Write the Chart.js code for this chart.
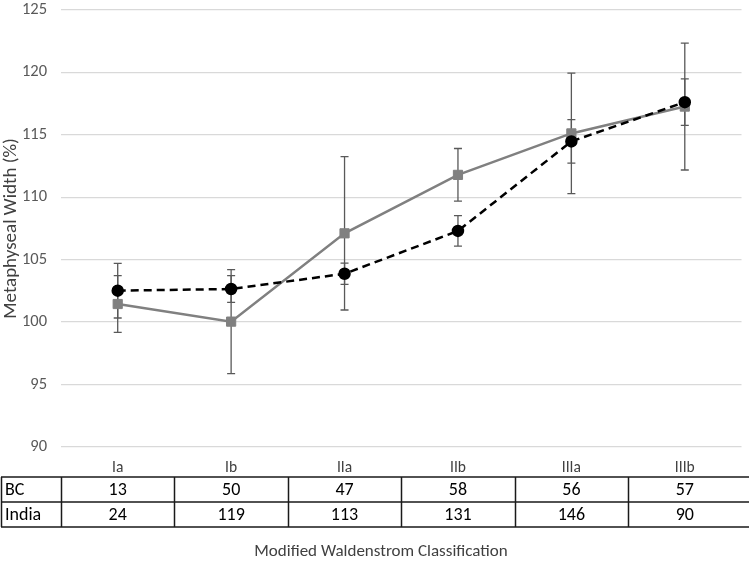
<!DOCTYPE html>
<html>
<head>
<meta charset="utf-8">
<script src="https://cdn.jsdelivr.net/npm/chart.js@4/dist/chart.umd.min.js"></script>
<style>
  html, body { margin: 0; padding: 0; background: #fff; }
  #wrap { width: 749px; height: 562px; }
</style>
</head>
<body>
<div id="wrap"><canvas id="c" width="749" height="562"></canvas></div>
<script>
const categories = ['Ia', 'Ib', 'IIa', 'IIb', 'IIIa', 'IIIb'];
const bcMean = [101.45, 100.04, 107.11, 111.79, 115.11, 117.26];
const bcErr = [2.27, 4.17, 6.14, 2.11, 4.82, 5.08];
const indiaMean = [102.52, 102.65, 103.87, 107.30, 114.47, 117.61];
const indiaErr = [2.19, 1.07, 0.85, 1.22, 1.74, 1.86];
const bcCount = [13, 50, 47, 58, 56, 57];
const indiaCount = [24, 119, 113, 131, 146, 90];
const rowLabels = ['BC', 'India'];
const yTitle = 'Metaphyseal Width (%)';
const xTitle = 'Modified Waldenstrom Classification';

const FONT = "Carlito, 'Liberation Sans', sans-serif";

const errorBars = {
  id: 'errorBars',
  beforeDatasetsDraw(chart) {
    const ctx = chart.ctx;
    const x = chart.scales.x, y = chart.scales.y;
    ctx.save();
    ctx.strokeStyle = '#595959';
    ctx.lineWidth = 1.3;
    const draw = (means, errs) => {
      means.forEach((m, i) => {
        const px = x.getPixelForValue(i);
        const top = y.getPixelForValue(m + errs[i]);
        const bot = y.getPixelForValue(m - errs[i]);
        ctx.beginPath();
        ctx.moveTo(px, top); ctx.lineTo(px, bot);
        ctx.moveTo(px - 4, top); ctx.lineTo(px + 4, top);
        ctx.moveTo(px - 4, bot); ctx.lineTo(px + 4, bot);
        ctx.stroke();
      });
    };
    draw(bcMean, bcErr);
    draw(indiaMean, indiaErr);
    ctx.restore();
  }
};

const dataTable = {
  id: 'dataTable',
  afterDraw(chart) {
    const ctx = chart.ctx;
    const x = chart.scales.x;
    const area = chart.chartArea;
    const step = x.getPixelForValue(1) - x.getPixelForValue(0);
    const b = area.bottom;
    const labelY = b + 21;
    const tTop = b + 30, tMid = b + 55, tBot = b + 80;
    ctx.save();
    // category labels
    ctx.fillStyle = '#404040';
    ctx.font = '15.5px ' + FONT;
    ctx.textAlign = 'center';
    ctx.textBaseline = 'middle';
    categories.forEach((c, i) => ctx.fillText(c, x.getPixelForValue(i), labelY));
    // table lines
    ctx.strokeStyle = '#1a1a1a';
    ctx.lineWidth = 1.5;
    ctx.beginPath();
    [tTop, tMid, tBot].forEach(yy => { ctx.moveTo(1, yy); ctx.lineTo(749, yy); });
    ctx.moveTo(1.5, tTop); ctx.lineTo(1.5, tBot);
    for (let i = 0; i < categories.length; i++) {
      const lx = Math.round(x.getPixelForValue(i) - step / 2) + 0.5;
      ctx.moveTo(lx, tTop); ctx.lineTo(lx, tBot);
    }
    ctx.stroke();
    // values
    ctx.fillStyle = '#000';
    ctx.font = '18px ' + FONT;
    const rows = [bcCount, indiaCount];
    rows.forEach((vals, r) => {
      const cy = tTop + 13 + r * 25;
      ctx.textAlign = 'left';
      ctx.fillText(rowLabels[r], 5, cy);
      ctx.textAlign = 'center';
      vals.forEach((v, i) => ctx.fillText(String(v), x.getPixelForValue(i), cy));
    });
    // x title
    ctx.fillStyle = '#404040';
    ctx.font = '17px ' + FONT;
    ctx.textAlign = 'center';
    ctx.fillText(xTitle, 381, b + 104.5);
    ctx.restore();
  }
};

new Chart(document.getElementById('c'), {
  type: 'line',
  data: {
    labels: categories,
    datasets: [
      {
        label: 'India',
        data: indiaMean,
        borderColor: '#000',
        backgroundColor: '#000',
        borderWidth: 2.5,
        borderDash: [8, 5],
        pointStyle: 'circle',
        pointRadius: 5,
        pointBackgroundColor: '#000',
        pointBorderColor: '#000',
        tension: 0
      },
      {
        label: 'BC',
        data: bcMean,
        borderColor: '#808080',
        backgroundColor: '#808080',
        borderWidth: 2.5,
        pointStyle: 'rect',
        pointRadius: 6.5,
        pointBackgroundColor: '#808080',
        pointBorderColor: '#808080',
        pointBorderWidth: 1,
        tension: 0
      }
    ]
  },
  options: {
    responsive: false,
    animation: false,
    layout: { padding: { top: 8, right: 4, bottom: 115, left: 0 } },
    plugins: { legend: { display: false }, tooltip: { enabled: false } },
    scales: {
      x: { type: 'category', offset: true, display: false },
      y: {
        min: 90, max: 125,
        ticks: { stepSize: 5, color: '#595959', font: { size: 16.5, family: FONT }, padding: 0 },
        grid: { color: '#d9d9d9', lineWidth: 1.3, drawTicks: true, tickLength: 14, tickColor: 'rgba(0,0,0,0)' },
        border: { display: false },
        title: { display: true, text: yTitle, color: '#404040', font: { size: 19, family: FONT }, padding: { top: 0, bottom: 0 } },
        afterFit(scale) { scale.width = 61; }
      }
    }
  },
  plugins: [errorBars, dataTable]
});
</script>
</body>
</html>
